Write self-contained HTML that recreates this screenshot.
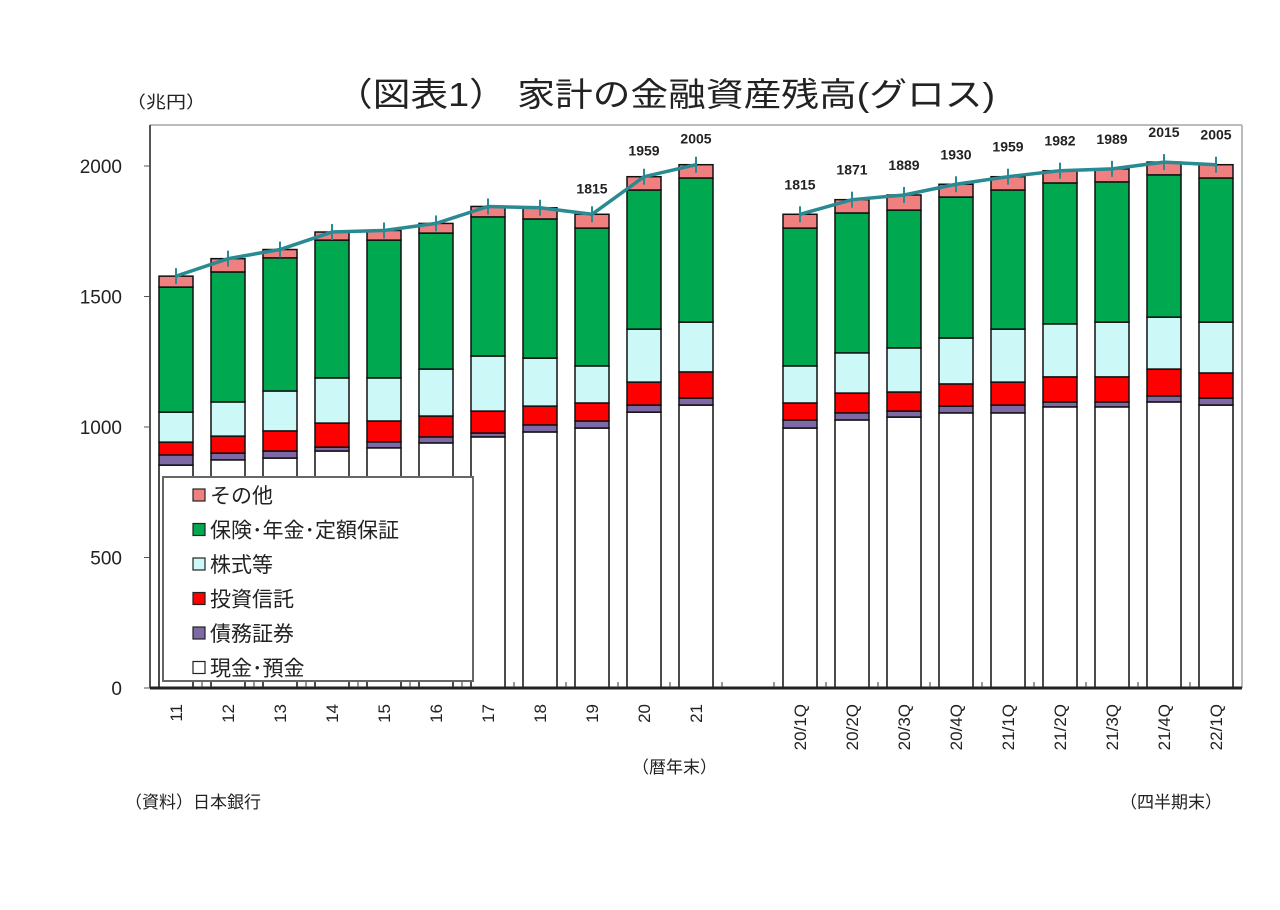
<!DOCTYPE html>
<html><head><meta charset="utf-8"><style>
body{margin:0;background:#fff;}
svg text{font-family:"Liberation Sans","Noto Sans CJK JP",sans-serif;fill:#222;}
</style></head><body>
<svg id="chart" width="1280" height="905" viewBox="0 0 1280 905" xmlns="http://www.w3.org/2000/svg">
<text x="335" y="106" font-size="33" textLength="660" lengthAdjust="spacingAndGlyphs">（図表1） 家計の金融資産残高(グロス)</text>
<text x="126" y="108" font-size="17" textLength="80" lengthAdjust="spacingAndGlyphs">（兆円）</text>
<line x1="150" y1="125" x2="1242" y2="125" stroke="#bbb" stroke-width="2"/>
<line x1="1242" y1="125" x2="1242" y2="688" stroke="#bbb" stroke-width="2"/>
<g id="bars"></g><g id="lines"></g><g id="axes"></g>
<g id="legend"></g>
<text x="632" y="773" font-size="17">（暦年末）</text>
<text x="1120" y="808" font-size="17">（四半期末）</text>
<text x="125" y="808" font-size="17">（資料）日本銀行</text>
</svg>
<script>
const categories=["11","12","13","14","15","16","17","18","19","20","21","","20/1Q","20/2Q","20/3Q","20/4Q","21/1Q","21/2Q","21/3Q","21/4Q","22/1Q"];
const cash=[854,874,881,908,920,939,962,981,996,1057,1084,null,996,1027,1038,1054,1054,1077,1077,1096,1084];
const bonds=[39,26,27,15,23,23,15,27,27,27,27,null,31,27,23,26,30,19,19,23,27];
const invTrust=[49,65,77,92,80,80,84,72,69,88,100,null,65,76,73,85,88,96,96,103,96];
const stocks=[115,131,153,173,165,180,211,184,142,203,191,null,142,154,169,176,203,203,210,199,195];
const insurance=[479,498,510,528,528,521,533,533,528,533,552,null,528,536,528,540,533,540,537,545,552];
const other=[42,51,32,31,37,37,40,43,53,51,51,null,53,51,58,49,51,47,50,49,51];
const totals=[1578,1645,1680,1747,1753,1780,1845,1840,1815,1959,2005,null,1815,1871,1889,1930,1959,1982,1989,2015,2005];
const totalLabels=["","","","","","","","","1815","1959","2005","","1815","1871","1889","1930","1959","1982","1989","2015","2005"];
const yTicks=[0,500,1000,1500,2000];
const seriesNames=["その他","保険･年金･定額保証","株式等","投資信託","債務証券","現金･預金"];
const seriesColors=["#f08080","#00a84f","#ccf8f8","#ff0000","#7d69a6","#ffffff"];

const NS="http://www.w3.org/2000/svg";
const X0=150,X1=1242,Y0=688,YMAX=2000,Y2000=166;
const bw=(X1-X0)/categories.length;
const xC=i=>X0+bw*(i+0.5);
const yS=v=>Y0-(v/YMAX)*(Y0-Y2000);
function mk(tag,attrs,parent){const e=document.createElementNS(NS,tag);for(const k in attrs)e.setAttribute(k,attrs[k]);parent.appendChild(e);return e;}
const gB=document.getElementById('bars'),gL=document.getElementById('lines'),gA=document.getElementById('axes'),gLeg=document.getElementById('legend');
const stack=[cash,bonds,invTrust,stocks,insurance,other];
const stackColors=["#ffffff","#7d69a6","#ff0000","#ccf8f8","#00a84f","#f08080"];
const stackNames=["cash","bonds","invtrust","stocks","insurance","other"];
categories.forEach((c,i)=>{
  if(cash[i]==null)return;
  let base=0;
  stack.forEach((s,k)=>{
    const v=s[i];
    const r=mk('rect',{x:xC(i)-17,y:yS(base+v),width:34,height:yS(base)-yS(base+v),fill:stackColors[k],stroke:'#111','stroke-width':1.5},gB);
    
    
    base+=v;
  });
  if(totalLabels[i]){
    const t=mk('text',{x:xC(i),y:yS(totals[i])-(i>=12?25:21),'font-size':14,'font-weight':'bold','text-anchor':'middle'},gB);
    t.textContent=totalLabels[i];
    
    
  }
});
function seg(a,b,name){
  let d='';for(let i=a;i<=b;i++)d+=(i===a?'M':'L')+xC(i)+','+yS(totals[i]);
  const p=mk('path',{d:d,fill:'none',stroke:'#2a8a92','stroke-width':3.5},gL);
  
  
  for(let i=a;i<=b;i++){const m=mk('line',{x1:xC(i),x2:xC(i),y1:yS(totals[i])-8,y2:yS(totals[i])+8,stroke:'#2a8a92','stroke-width':2},gL);
    
    }
}
seg(0,10,'total-line-annual');seg(12,20,'total-line-quarterly');
const ax=mk('line',{x1:X0,y1:125,x2:X0,y2:Y0,stroke:'#555','stroke-width':2},gA);

const xa=mk('line',{x1:X0,y1:Y0,x2:X1,y2:Y0,stroke:'#222','stroke-width':3},gA);

yTicks.forEach(v=>{
  mk('line',{x1:X0-6,x2:X0,y1:yS(v),y2:yS(v),stroke:'#555'},gA);
  const t=mk('text',{x:122,y:yS(v)+7,'font-size':19,'text-anchor':'end'},gA);t.textContent=v;
  
});
for(let i=1;i<categories.length;i++)mk('line',{x1:X0+bw*i,x2:X0+bw*i,y1:Y0-6,y2:Y0,stroke:'#333'},gA);
categories.forEach((c,i)=>{
  if(!c)return;
  const t=mk('text',{transform:`translate(${xC(i)+6},${Y0+16}) rotate(-90)`,'font-size':17,'text-anchor':'end'},gA);
  t.textContent=c;
  
});
mk('rect',{x:163,y:477,width:310,height:204,fill:'#fff',stroke:'#666','stroke-width':2},gLeg);
seriesNames.forEach((n,k)=>{
  const y=495+k*34.5;
  const r=mk('rect',{x:193,y:y-6,width:12,height:12,fill:seriesColors[k],stroke:'#222','stroke-width':1.2},gLeg);
  
  const t=mk('text',{x:210,y:y+8,'font-size':21},gLeg);t.textContent=n;
  
});
</script>
</body></html>
